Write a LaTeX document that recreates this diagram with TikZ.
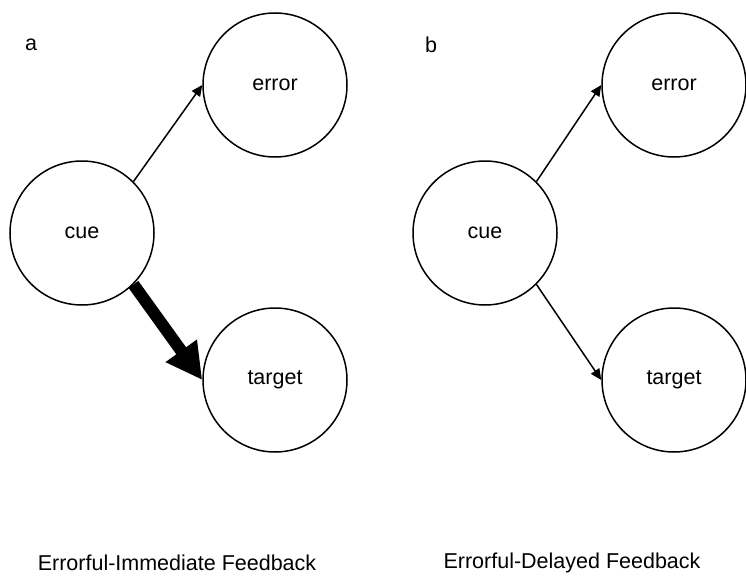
\documentclass[tikz,border=0pt]{standalone}
\usepackage{fontspec}
\setmainfont{Liberation Sans}
\usetikzlibrary{arrows.meta}
\begin{document}
\begin{tikzpicture}[x=1pt,y=-1pt,
  state/.style={circle,draw,line width=1.5pt,minimum size=144pt,inner sep=0pt,font=\fontsize{21.5}{26}\selectfont},
  thinarrow/.style={line width=1.5pt,-{Triangle[length=11pt,width=10pt]}},
  thickarrow/.style={line width=12pt,-{Triangle[length=36pt,width=36pt]}},
  caption/.style={font=\fontsize{21.5}{26}\selectfont},
  panel/.style={font=\fontsize{21.5}{26}\selectfont}]
\useasboundingbox (0,0) rectangle (746,575);
% panel a
\node[panel] (la) at (31,45) {a};
\node[state] (cueA) at (82,233) {cue};
\node[state] (errA) at (275,85) {error};
\node[state] (tgtA) at (275,380) {target};
\draw[thinarrow] (cueA.45) -- (errA.west);
\draw[thickarrow] (cueA.-45) -- (tgtA.west);
\node[caption] (capA) at (177,563) {Errorful-Immediate Feedback};
% panel b
\node[panel] (lb) at (431,45) {b};
\node[state] (cueB) at (485,233) {cue};
\node[state] (errB) at (674,85) {error};
\node[state] (tgtB) at (674,380) {target};
\draw[thinarrow] (cueB.45) -- (errB.west);
\draw[thinarrow] (cueB.-45) -- (tgtB.west);
\node[caption] (capB) at (572,563) {Errorful-Delayed Feedback};
\end{tikzpicture}
\end{document}
